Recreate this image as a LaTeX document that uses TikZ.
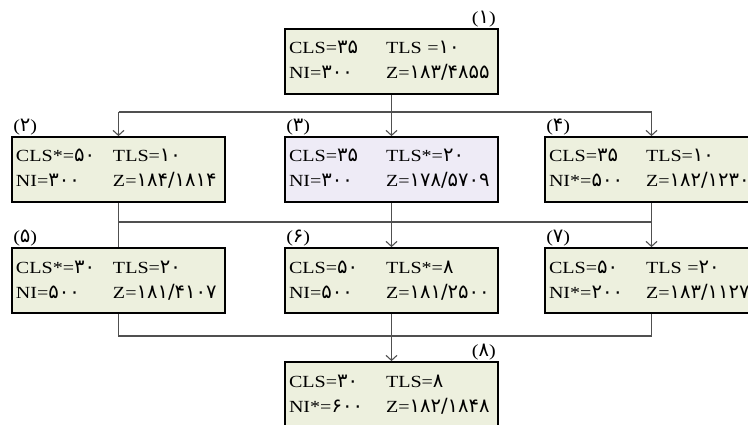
\documentclass[tikz,border=0pt]{standalone}
\usepackage{fontspec}
\usepackage{tikz}
\setmainfont{Liberation Serif}[FakeStretch=1.18]
\newfontfamily\fanum[Scale=1.15]{DejaVu Sans}
\usetikzlibrary{arrows.meta}
\definecolor{boxgreen}{RGB}{237,240,222}
\definecolor{boxlilac}{RGB}{238,235,246}
\definecolor{wiregray}{RGB}{80,80,80}
\newcommand{\fa}[1]{{\fanum #1}}
\newcommand{\cells}[4]{\begin{tabular}{@{}p{97pt}@{}l@{}}#1&#2\\#3&#4\end{tabular}}

\begin{document}
\begin{tikzpicture}[x=1pt, y=-1pt,
  state/.style={draw, line width=1.8pt, fill=boxgreen, minimum width=213pt, minimum height=65pt,
    text width=205pt, align=left, inner sep=4pt, font=\fontsize{17}{25}\selectfont},
  num/.style={font=\fontsize{17}{18}\selectfont, inner sep=1pt},
  wire/.style={draw=wiregray, line width=1.1pt},
  arr/.style={wire, -{Straight Barb[length=5pt, width=11pt]}}]
  \path[use as bounding box, clip] (0,0) rectangle (748,425);
  \node[state] (b1) at (391.5,61.5) {\cells{CLS=\fa{۳۵}}{TLS =\fa{۱۰}}{NI=\fa{۳۰۰}}{Z=\fa{۱۸۳/۴۸۵۵}}};
  \node[state] (b2) at (118.5,169.5) {\cells{CLS*=\fa{۵۰}}{TLS=\fa{۱۰}}{NI=\fa{۳۰۰}}{Z=\fa{۱۸۴/۱۸۱۴}}};
  \node[state, fill=boxlilac] (b3) at (391.5,169.5) {\cells{CLS=\fa{۳۵}}{TLS*=\fa{۲۰}}{NI=\fa{۳۰۰}}{Z=\fa{۱۷۸/۵۷۰۹}}};
  \node[state] (b4) at (651.5,169.5) {\cells{CLS=\fa{۳۵}}{TLS=\fa{۱۰}}{NI*=\fa{۵۰۰}}{Z=\fa{۱۸۲/۱۲۳۰}}};
  \node[state] (b5) at (118.5,280.5) {\cells{CLS*=\fa{۳۰}}{TLS=\fa{۲۰}}{NI=\fa{۵۰۰}}{Z=\fa{۱۸۱/۴۱۰۷}}};
  \node[state] (b6) at (391.5,280.5) {\cells{CLS=\fa{۵۰}}{TLS*=\fa{۸}}{NI=\fa{۵۰۰}}{Z=\fa{۱۸۱/۲۵۰۰}}};
  \node[state] (b7) at (651.5,280.5) {\cells{CLS=\fa{۵۰}}{TLS =\fa{۲۰}}{NI*=\fa{۲۰۰}}{Z=\fa{۱۸۳/۱۱۲۷}}};
  \node[state] (b8) at (391.5,394.5) {\cells{CLS=\fa{۳۰}}{TLS=\fa{۸}}{NI*=\fa{۶۰۰}}{Z=\fa{۱۸۲/۱۸۴۸}}};
  \node[num, anchor=south east] (l1) at ([xshift=-2pt]b1.north east) {(\fa{۱})};
  \node[num, anchor=south west] (l2) at ([xshift=1pt]b2.north west) {(\fa{۲})};
  \node[num, anchor=south west] (l3) at ([xshift=1pt]b3.north west) {(\fa{۳})};
  \node[num, anchor=south west] (l4) at ([xshift=1pt]b4.north west) {(\fa{۴})};
  \node[num, anchor=south west] (l5) at ([xshift=1pt]b5.north west) {(\fa{۵})};
  \node[num, anchor=south west] (l6) at ([xshift=1pt]b6.north west) {(\fa{۶})};
  \node[num, anchor=south west] (l7) at ([xshift=1pt]b7.north west) {(\fa{۷})};
  \node[num, anchor=south east] (l8) at ([xshift=-2pt]b8.north east) {(\fa{۸})};
  \coordinate (busA) at (0,112);
  \coordinate (busB) at (0,222);
  \coordinate (busC) at (0,336);
  \draw[wire] (b1.south) -- (b1.south |- busA);
  \draw[wire] (b2.north |- busA) -- (b4.north |- busA);
  \draw[arr] (b2.north |- busA) -- (b2.north);
  \draw[arr] (b3.north |- busA) -- (b3.north);
  \draw[arr] (b4.north |- busA) -- (b4.north);
  \draw[wire] (b2.south |- busB) -- (b4.south |- busB);
  \draw[wire] (b2.south) -- (b5.north);
  \draw[arr] (b3.south) -- (b6.north);
  \draw[arr] (b4.south) -- (b7.north);
  \draw[wire] (b5.south) -- (b5.south |- busC) -- (b7.south |- busC) -- (b7.south);
  \draw[arr] (b6.south) -- (b8.north);
\end{tikzpicture}
\end{document}
